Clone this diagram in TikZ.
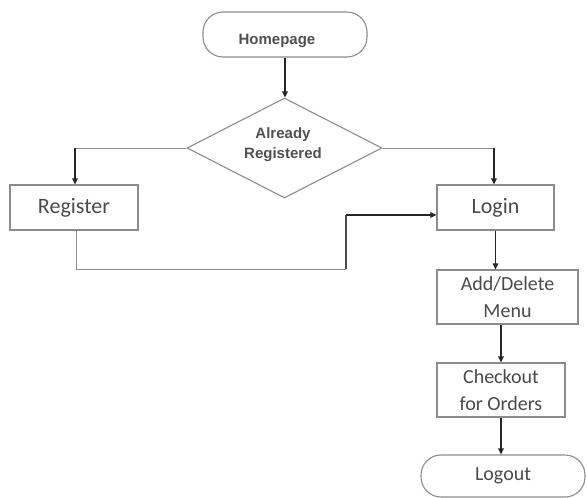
\documentclass[tikz,border=0pt]{standalone}
\usepackage{fontspec}
\setmainfont{Carlito}
\newfontfamily\arialf{Liberation Sans}
\usetikzlibrary{arrows.meta,shapes.geometric}
\definecolor{edge}{HTML}{8C8C8C}
\definecolor{txt}{HTML}{4A4A4A}
\definecolor{txtb}{HTML}{505050}
\begin{document}
\begin{tikzpicture}[x=1pt,y=-1pt,
 box/.style={draw=edge,line width=1.1pt,rectangle,inner sep=0pt},
 term/.style={draw=edge,line width=1.1pt,rectangle,rounded corners=20pt,inner sep=0pt},
 lbl/.style={font=\fontsize{20}{27}\selectfont,text=txt,align=center},
 big/.style={font=\fontsize{22}{26}\selectfont,text=txt},
 ar/.style={font=\arialf\bfseries\fontsize{15}{20}\selectfont,text=txtb,align=center},
 arr/.style={draw=black!85,line width=1.4pt,-{Triangle[length=6pt,width=5.5pt]}},
 thinline/.style={draw=edge,line width=1pt},
 darkline/.style={draw=black!70,line width=1.1pt}]
\useasboundingbox (0,0) rectangle (587,498);
% nodes
\node[term,minimum width=164pt,minimum height=45pt] (home) at (285,34.5) {};
\node[ar] (hometext) at (277,41) {Homepage};
\node[diamond,draw=edge,line width=1.1pt,minimum width=195pt,minimum height=100pt,inner sep=0pt] (dia) at (284.5,148) {};
\node[ar] (diatext) at (283,145) {Already\\Registered};
\node[box,big,minimum width=128pt,minimum height=45pt] (reg) at (74,207.5) {Register};
\node[box,big,minimum width=117pt,minimum height=45pt] (login) at (495.5,207.5) {Login};
\node[box,lbl,minimum width=141pt,minimum height=54pt] (add) at (507.5,297) {Add/Delete\\Menu};
\node[box,lbl,minimum width=128pt,minimum height=54pt] (check) at (501,390) {Checkout\\for Orders};
\node[term,lbl,minimum width=164pt,minimum height=42pt] (logout) at (503,476) {Logout};
% connectors
\draw[arr] (home.south) -- (home.south |- dia.north);
\coordinate (lc) at (75,148);
\coordinate (rc) at (494,148);
\draw[thinline] (dia.west) -- (lc);
\draw[arr] (lc) -- (lc |- reg.north);
\draw[thinline] (dia.east) -- (rc);
\draw[arr] (rc) -- (rc |- login.north);
\coordinate (r1) at (76,269);
\coordinate (r2) at (346,269);
\coordinate (r3) at (346,215);
\draw[thinline] (reg.south -| r1) -- (r1) -- (r2);
\draw[darkline] (r2) -- (r3);
\draw[arr,line width=1.2pt] (r3) -- (r3 -| login.west);
\draw[arr] (login.south) -- (login.south |- add.north);
\draw[arr] (check.north |- add.south) -- (check.north);
\draw[arr] (check.south) -- (check.south |- logout.north);
\end{tikzpicture}
\end{document}
